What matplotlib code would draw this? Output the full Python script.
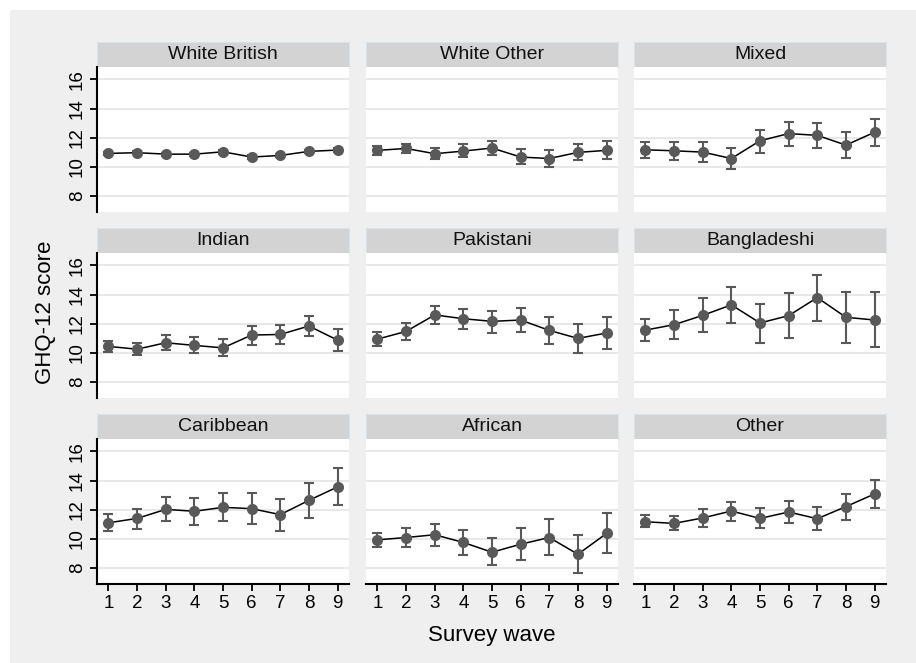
import matplotlib
matplotlib.use("Agg")
import matplotlib.pyplot as plt
import numpy as np

plt.rcParams['font.family'] = ['Liberation Sans', 'DejaVu Sans']

### GHQ-12 means and 95% CIs by ethnic group and survey wave
waves = [1, 2, 3, 4, 5, 6, 7, 8, 9]
groups = ['White British', 'White Other', 'Mixed',
          'Indian', 'Pakistani', 'Bangladeshi',
          'Caribbean', 'African', 'Other']

mean_wb = [10.92, 10.97, 10.87, 10.87, 11.03, 10.67, 10.78, 11.06, 11.15]
lo_wb   = [10.80, 10.86, 10.76, 10.76, 10.91, 10.55, 10.66, 10.94, 11.02]
hi_wb   = [11.04, 11.08, 10.98, 10.98, 11.15, 10.79, 10.90, 11.18, 11.28]

mean_wo = [11.13, 11.26, 10.90, 11.08, 11.29, 10.67, 10.57, 10.99, 11.13]
lo_wo   = [10.83, 10.92, 10.53, 10.69, 10.78, 10.16, 10.00, 10.46, 10.51]
hi_wo   = [11.45, 11.59, 11.29, 11.54, 11.75, 11.20, 11.13, 11.59, 11.77]

mean_mx = [11.17, 11.10, 11.01, 10.57, 11.79, 12.28, 12.16, 11.49, 12.37]
lo_mx   = [10.62, 10.46, 10.32, 9.82, 10.97, 11.45, 11.29, 10.62, 11.40]
hi_mx   = [11.72, 11.68, 11.70, 11.31, 12.55, 13.08, 13.01, 12.37, 13.29]

mean_in = [10.44, 10.25, 10.69, 10.51, 10.34, 11.22, 11.26, 11.84, 10.87]
lo_in   = [10.09, 9.84, 10.21, 9.98, 9.77, 10.57, 10.62, 11.15, 10.11]
hi_in   = [10.80, 10.69, 11.24, 11.06, 10.97, 11.84, 11.91, 12.51, 11.61]

mean_pk = [10.94, 11.47, 12.60, 12.34, 12.16, 12.25, 11.54, 10.99, 11.36]
lo_pk   = [10.44, 10.85, 11.98, 11.66, 11.38, 11.43, 10.62, 9.98, 10.25]
hi_pk   = [11.43, 12.02, 13.24, 13.01, 12.90, 13.06, 12.46, 11.98, 12.48]

mean_bd = [11.56, 11.93, 12.57, 13.29, 12.05, 12.55, 13.79, 12.44, 12.25]
lo_bd   = [10.78, 10.94, 11.43, 12.05, 10.69, 11.01, 12.21, 10.64, 10.39]
hi_bd   = [12.30, 12.94, 13.75, 14.55, 13.38, 14.11, 15.36, 14.16, 14.14]

mean_cb = [11.10, 11.40, 12.02, 11.89, 12.16, 12.07, 11.66, 12.64, 13.56]
lo_cb   = [10.51, 10.67, 11.20, 10.94, 11.20, 10.99, 10.55, 11.45, 12.30]
hi_cb   = [11.70, 12.07, 12.85, 12.78, 13.13, 13.15, 12.74, 13.84, 14.83]

mean_af = [9.93, 10.09, 10.28, 9.75, 9.08, 9.63, 10.09, 8.94, 10.37]
lo_af   = [9.45, 9.47, 9.52, 8.92, 8.18, 8.55, 8.90, 7.68, 9.01]
hi_af   = [10.39, 10.76, 11.03, 10.60, 10.07, 10.74, 11.33, 10.23, 11.75]

mean_ot = [11.17, 11.06, 11.43, 11.91, 11.40, 11.84, 11.38, 12.21, 13.08]
lo_ot   = [10.78, 10.60, 10.83, 11.24, 10.71, 11.06, 10.60, 11.31, 12.11]
hi_ot   = [11.61, 11.56, 12.02, 12.53, 12.11, 12.57, 12.18, 13.08, 14.05]

means = [mean_wb, mean_wo, mean_mx, mean_in, mean_pk, mean_bd, mean_cb, mean_af, mean_ot]
lows  = [lo_wb, lo_wo, lo_mx, lo_in, lo_pk, lo_bd, lo_cb, lo_af, lo_ot]
highs = [hi_wb, hi_wo, hi_mx, hi_in, hi_pk, hi_bd, hi_cb, hi_af, hi_ot]

yticks = [8, 10, 12, 14, 16]

### Figure settings (pixel layout)
W, H = 916, 663
bg = '#efefef'
markcol = '#595959'
gridcol = '#e8e8e8'
headcol = '#d3d3d3'

col_left = [97, 366, 634]
panel_w = 252
row_top = [67, 253, 439]       # top of plot region (below header)
panel_h = 145
head_h = 25

fig = plt.figure(figsize=(W / 100, H / 100), dpi=100)
fig.patch.set_facecolor('white')
fig.patches.append(plt.Rectangle((10 / W, 0), 1 - 10 / W, 1 - 10 / H,
                                 transform=fig.transFigure, facecolor=bg,
                                 edgecolor='none', zorder=-10))

def fig_box(x, y_top, w, h):
    return [x / W, 1 - (y_top + h) / H, w / W, h / H]

for idx, name in enumerate(groups):
    r, c = divmod(idx, 3)

    ### header strip
    hax = fig.add_axes(fig_box(col_left[c], row_top[r] - head_h, panel_w, head_h))
    hax.set_facecolor(headcol)
    hax.set_xticks([]); hax.set_yticks([])
    for sp in hax.spines.values():
        sp.set_color('#d9e3ea')
        sp.set_linewidth(0.8)
    hax.text(0.5, 0.5, name, ha='center', va='center', fontsize=14,
             color='#111111', transform=hax.transAxes)

    ### plot region
    ax = fig.add_axes(fig_box(col_left[c], row_top[r], panel_w, panel_h))
    ax.set_facecolor('white')
    ax.set_xlim(0.6, 9.4)
    ax.set_ylim(6.9, 16.85)
    for y in yticks:
        ax.axhline(y, color=gridcol, linewidth=1.5, zorder=0)

    m = np.array(means[idx]); lo = np.array(lows[idx]); hi = np.array(highs[idx])
    ax.errorbar(waves, m, yerr=[m - lo, hi - m], fmt='none', ecolor=markcol,
                elinewidth=1.5, capsize=3.5, capthick=1.5, zorder=2)
    ax.plot(waves, m, color='black', linewidth=1.1, zorder=3)
    ax.plot(waves, m, linestyle='none', marker='o', markersize=8,
            color=markcol, markeredgewidth=0, zorder=4)

    for sp in ax.spines.values():
        sp.set_visible(False)
    ax.set_yticks(yticks)
    ax.set_xticks(waves)
    ax.tick_params(axis='both', colors='black', labelsize=13.5, width=1.3, length=5, pad=3)

    if c == 0:
        ax.spines['left'].set_visible(True)
        ax.spines['left'].set_linewidth(1.5)
        ax.set_yticklabels([str(v) for v in yticks], rotation=90, va='center')
    else:
        ax.tick_params(axis='y', left=False, labelleft=False)

    if r == 2:
        ax.spines['bottom'].set_visible(True)
        ax.spines['bottom'].set_linewidth(1.5)
    else:
        ax.tick_params(axis='x', bottom=False, labelbottom=False)

### shared axis titles
fig.text(45 / W, 1 - 312 / H, 'GHQ-12 score', rotation=90, ha='center', va='center', fontsize=16)
fig.text((col_left[1] + panel_w / 2) / W, 1 - 635 / H, 'Survey wave', ha='center', va='center', fontsize=16)

plt.savefig('out.png', dpi=100, facecolor=fig.get_facecolor())
